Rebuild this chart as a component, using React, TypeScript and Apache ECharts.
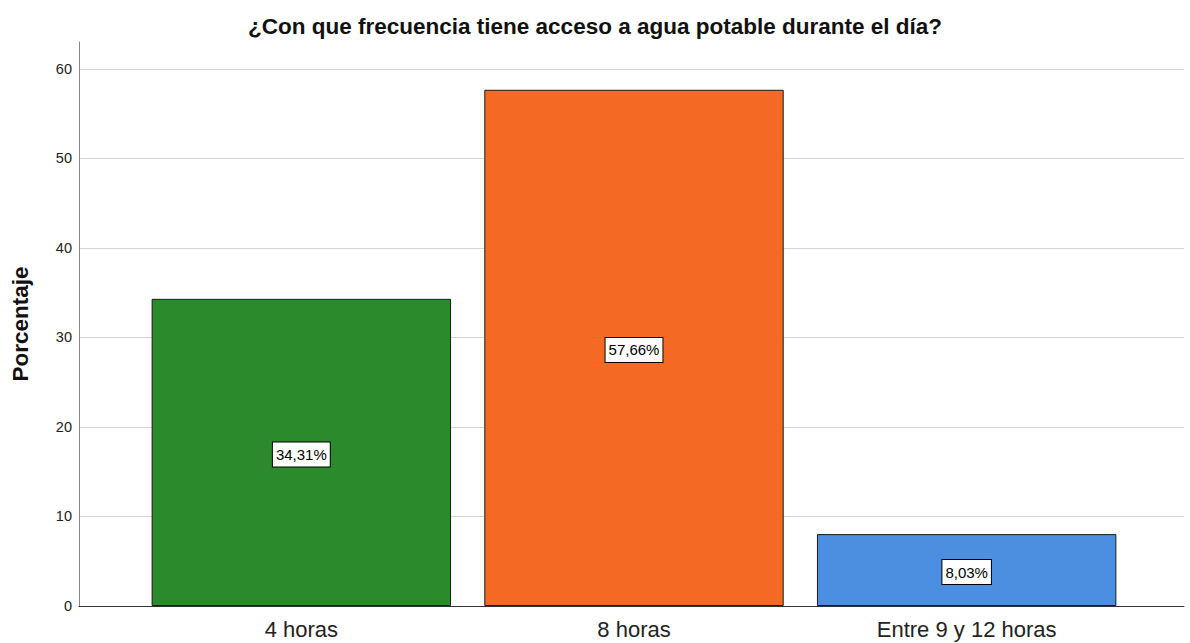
import React, { useEffect, useRef } from "react";
import * as echarts from "echarts";

const titleText = "¿Con que frecuencia tiene acceso a agua potable durante el día?";
const categories = ["4 horas", "8 horas", "Entre 9 y 12 horas"];
const percentages = [34.31, 57.66, 8.03];
const barColors = ["#2b8a2b", "#f46a25", "#4c8fe0"];
const yAxisName = "Porcentaje";
const yMin = 0;
const yMax = 63;
const yInterval = 10;

const FONT = "'Liberation Sans', Arial, sans-serif";

export default function App() {
  const ref = useRef<HTMLDivElement>(null);

  useEffect(() => {
    if (!ref.current) return;
    const chart = echarts.init(ref.current, undefined, { renderer: "svg" });
    const top = 42;
    const bottom = 37;
    chart.setOption({
      animation: false,
      backgroundColor: "#ffffff",
      textStyle: { fontFamily: FONT },
      title: {
        text: titleText,
        left: "center",
        top: 10,
        textStyle: { fontSize: 22.5, fontWeight: "bold", color: "#111", fontFamily: FONT },
      },
      grid: [
        { left: 79, right: 6, top, bottom },
        { left: 135, right: 57, top, bottom },
      ],
      xAxis: [
        {
          gridIndex: 0,
          type: "value",
          min: 0,
          max: 1,
          axisLine: { show: true, lineStyle: { color: "#333", width: 1 } },
          axisTick: { show: false },
          axisLabel: { show: false },
          splitLine: { show: false },
        },
        {
          gridIndex: 1,
          type: "category",
          data: categories,
          axisLine: { show: false },
          axisTick: { show: false },
          axisLabel: { fontSize: 22, color: "#222", margin: 12, fontFamily: FONT },
        },
      ],
      yAxis: [
        {
          gridIndex: 0,
          type: "value",
          min: yMin,
          max: yMax,
          interval: yInterval,
          name: yAxisName,
          nameLocation: "middle",
          nameGap: 47,
          nameTextStyle: { fontSize: 22.5, fontWeight: "bold", color: "#111", fontFamily: FONT },
          axisLine: { show: true, lineStyle: { color: "#888", width: 1 } },
          axisTick: { show: false },
          axisLabel: { fontSize: 14.5, color: "#222", margin: 7, showMaxLabel: false, fontFamily: FONT },
          splitLine: { show: true, showMaxLine: false, lineStyle: { color: "#d4d4d4", width: 1 } },
        },
        {
          gridIndex: 1,
          type: "value",
          min: yMin,
          max: yMax,
          interval: yInterval,
          show: false,
          splitLine: { show: false },
        },
      ],
      series: [
        {
          type: "bar",
          xAxisIndex: 1,
          yAxisIndex: 1,
          barCategoryGap: "10%",
          data: percentages.map((v, i) => ({
            value: v,
            itemStyle: { color: barColors[i], borderColor: "#1a1a1a", borderWidth: 1 },
          })),
          label: {
            show: true,
            position: "inside",
            offset: [0, 2],
            formatter: (p: any) => p.value.toFixed(2).replace(".", ",") + "%",
            fontSize: 15,
            color: "#000",
            fontFamily: FONT,
            backgroundColor: "#ffffff",
            borderColor: "#000",
            borderWidth: 1,
            padding: [5, 3, 4, 3],
          },
        },
      ],
    });
    return () => chart.dispose();
  }, []);

  return (
    <div
      ref={ref}
      style={{ position: "fixed", left: 0, top: 0, width: 1190, height: 643, background: "#fff" }}
    />
  );
}
